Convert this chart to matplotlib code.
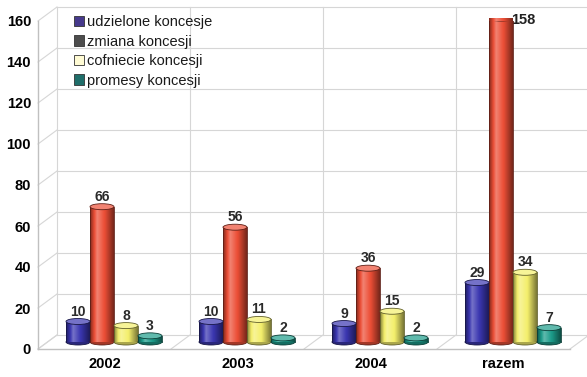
import numpy as np
import matplotlib.pyplot as plt
from matplotlib.patches import Rectangle, Ellipse, Patch
from matplotlib.colors import to_rgb

plt.rcParams['font.family'] = ['Liberation Sans', 'DejaVu Sans']

categories = ['2002', '2003', '2004', 'razem']
series = ['udzielone koncesje', 'zmiana koncesji', 'cofniecie koncesji', 'promesy koncesji']
udzielone = [10, 10, 9, 29]
zmiana = [66, 56, 36, 158]
cofniecie = [8, 11, 15, 34]
promesy = [3, 2, 2, 7]
yticks = [0, 20, 40, 60, 80, 100, 120, 140, 160]

bar_colors = ['#3a36b0', '#ec4e36', '#f4ef6c', '#1c9c8a']
legend_colors = ['#46398c', '#4d4d4d', '#fffbd4', '#1f6e6a']

W, H = 587, 377
fig = plt.figure(figsize=(W / 100, H / 100), dpi=100)
ax = fig.add_axes([38 / W, 28 / H, 532 / W, 328 / H])
xmax, ymax = len(categories), 160

# depth of the pseudo-3d box, in data units
DX = 19 / 532 * xmax
DY = 14 / 328 * ymax
EH = 6 / 328 * ymax          # height of a cylinder cap
grid_c = '#d6d6d6'


def shade(c, f):
    c = np.array(to_rgb(c))
    if f >= 0:
        return c + (1 - c) * f
    return c * (1 + f)


# back wall, side wall and floor
for v in yticks:
    ax.plot([DX, xmax + DX], [v + DY, v + DY], color=grid_c, lw=0.8, zorder=1, clip_on=False)
    ax.plot([0, DX], [v, v + DY], color=grid_c, lw=0.8, zorder=1, clip_on=False)
for i in range(xmax + 1):
    ax.plot([i, i + DX], [0, DY], color=grid_c, lw=0.8, zorder=1, clip_on=False)
    if i < xmax:
        ax.plot([i + DX, i + DX], [DY, ymax + DY], color=grid_c, lw=0.8, zorder=1, clip_on=False)
ax.plot([0, 0], [0, ymax], color='#c0c0c0', lw=1.0, zorder=1, clip_on=False)
ax.plot([0, xmax], [0, 0], color='#c0c0c0', lw=1.0, zorder=1, clip_on=False)

prof = np.interp(np.linspace(0, 1, 64), [0, 0.3, 0.65, 1], [-0.45, 0.3, -0.05, -0.5])


def cylinder(x0, w, y0, h, color, z):
    edge = shade(color, -0.6)
    grad = np.array([shade(color, f) for f in prof])[None]
    ax.add_patch(Ellipse((x0 + w / 2, y0), w, EH, facecolor=shade(color, -0.3),
                         edgecolor=edge, lw=0.6, zorder=z))
    body = Rectangle((x0, y0), w, h, facecolor='none', edgecolor='none', zorder=z)
    ax.add_patch(body)
    im = ax.imshow(grad, extent=(x0, x0 + w, y0, y0 + h), aspect='auto',
                   interpolation='bilinear', zorder=z)
    im.set_clip_path(body)
    ax.plot([x0, x0], [y0, y0 + h], color=edge, lw=0.6, zorder=z)
    ax.plot([x0 + w, x0 + w], [y0, y0 + h], color=edge, lw=0.6, zorder=z)
    ax.add_patch(Ellipse((x0 + w / 2, y0 + h), w, EH, facecolor=shade(color, 0.3),
                         edgecolor=edge, lw=0.6, zorder=z + 0.5))


bw = 24 / 532 * xmax
data = [udzielone, zmiana, cofniecie, promesy]
for i, cat in enumerate(categories):
    cx = i + 0.5 + DX / 2
    for j, vals in enumerate(data):
        v = vals[i]
        x0 = cx + (j - 2) * bw
        cylinder(x0, bw, DY / 2, v, bar_colors[j], 3 + j * 0.1)
        top = DY / 2 + v
        if top + 8 > ymax:
            ax.text(x0 + bw * 0.92, top - 1, str(v), ha='left', va='center',
                    fontsize=10.5, fontweight='bold', color='#222222', zorder=2)
        else:
            ax.text(x0 + bw / 2, top + EH / 2, str(v), ha='center', va='bottom',
                    fontsize=10, fontweight='bold', color='#2a2a2a', zorder=5)

ax.set_xlim(0, xmax)
ax.set_ylim(0, ymax)
ax.set_xticks(np.arange(xmax) + 0.5)
ax.set_xticklabels(categories, fontsize=10.5, fontweight='bold')
ax.set_yticks(yticks)
ax.set_yticklabels([str(t) for t in yticks], fontsize=10.5, fontweight='bold')
ax.tick_params(length=0, pad=5)
ax.tick_params(axis='x', pad=6)
for s in ax.spines.values():
    s.set_visible(False)
ax.set_facecolor('white')

handles = [Patch(facecolor=legend_colors[k], edgecolor='#333333', lw=0.6) for k in range(4)]
fig.legend(handles, series, loc='upper left', bbox_to_anchor=(74 / W, 1 - 15 / H),
           frameon=False, fontsize=10.5, handlelength=0.7, handleheight=0.7,
           handletextpad=0.2, labelspacing=0.38, borderpad=0, borderaxespad=0,
           labelcolor='#1a1a1a')

fig.savefig('out.png', dpi=100)
